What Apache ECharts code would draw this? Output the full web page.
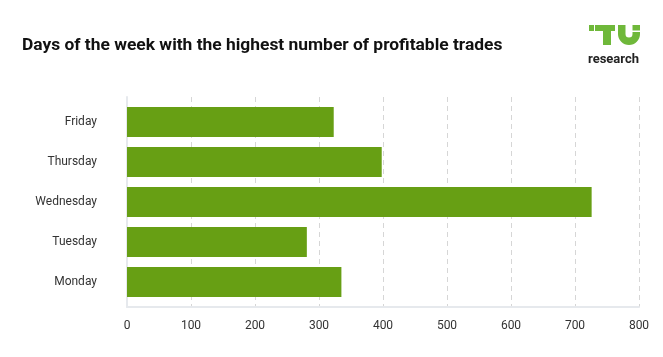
<!DOCTYPE html>
<html>
<head>
<meta charset="utf-8">
<script src="https://cdn.jsdelivr.net/npm/echarts@6/dist/echarts.min.js"></script>
<style>html,body{margin:0;padding:0;background:#fff}#c{width:663px;height:357px}</style>
</head>
<body>
<div id="c"></div>
<script>
const titleText = 'Days of the week with the highest number of profitable trades';
const categories = ['Monday', 'Tuesday', 'Wednesday', 'Thursday', 'Friday'];
const trades = [335, 281, 726, 398, 323];
const xMin = 0, xMax = 800, xStep = 100;

const chart = echarts.init(document.getElementById('c'), null, {renderer: 'canvas'});
const green = '#6fb83a';
chart.setOption({
  backgroundColor: '#ffffff',
  animation: false,
  textStyle: {fontFamily: 'Roboto'},
  title: {
    text: titleText,
    left: 22, top: 37, padding: 0,
    textStyle: {fontFamily: 'Roboto', fontWeight: 'bold', fontSize: 17.4, color: '#111111'}
  },
  graphic: [
    {type: 'rect', shape: {x: 589, y: 25, width: 5, height: 6}, style: {fill: green}},
    {type: 'rect', shape: {x: 595, y: 25, width: 20, height: 6}, style: {fill: green}},
    {type: 'rect', shape: {x: 603, y: 25, width: 8, height: 20}, style: {fill: green}},
    {type: 'rect', shape: {x: 618, y: 25, width: 7.5, height: 9}, style: {fill: green}},
    {type: 'rect', shape: {x: 632.5, y: 25, width: 7.5, height: 5.5}, style: {fill: green}},
    {type: 'rect', shape: {x: 632.5, y: 32, width: 7.5, height: 2}, style: {fill: green}},
    {type: 'sector', shape: {cx: 629, cy: 34, r0: 3.5, r: 11, startAngle: 0, endAngle: Math.PI, clockwise: true}, style: {fill: green}},
    {type: 'text', left: 588, top: 53, style: {text: 'research', font: 'bold 13px Roboto', fill: '#222222'}}
  ],
  grid: [
    {left: 127, right: 24, top: 97, bottom: 50},
    {left: 127, right: 24, top: 102, bottom: 55}
  ],
  xAxis: [
    {
      gridIndex: 0, type: 'value', min: xMin, max: xMax, interval: xStep,
      axisLine: {show: true, lineStyle: {color: '#e6e9ed', width: 2}},
      axisTick: {show: false},
      axisLabel: {color: '#333333', fontSize: 12, margin: 13, fontFamily: 'Roboto'},
      splitLine: {show: true, lineStyle: {color: '#d6d6d6', type: [5, 4], width: 1}}
    },
    {gridIndex: 1, type: 'value', min: xMin, max: xMax, interval: xStep, show: false}
  ],
  yAxis: [
    {
      gridIndex: 0, type: 'value', min: 0, max: 1,
      axisLine: {show: true, lineStyle: {color: '#e6e9ed', width: 2}},
      axisTick: {show: false}, axisLabel: {show: false}, splitLine: {show: false}
    },
    {
      gridIndex: 1, type: 'category', data: categories,
      axisLine: {show: false}, axisTick: {show: false},
      axisLabel: {color: '#333333', fontSize: 12, margin: 30, fontFamily: 'Roboto'}
    }
  ],
  series: [{
    type: 'bar', xAxisIndex: 1, yAxisIndex: 1,
    data: trades, barWidth: 30,
    itemStyle: {color: '#679f14'}
  }]
});
</script>
</body>
</html>
